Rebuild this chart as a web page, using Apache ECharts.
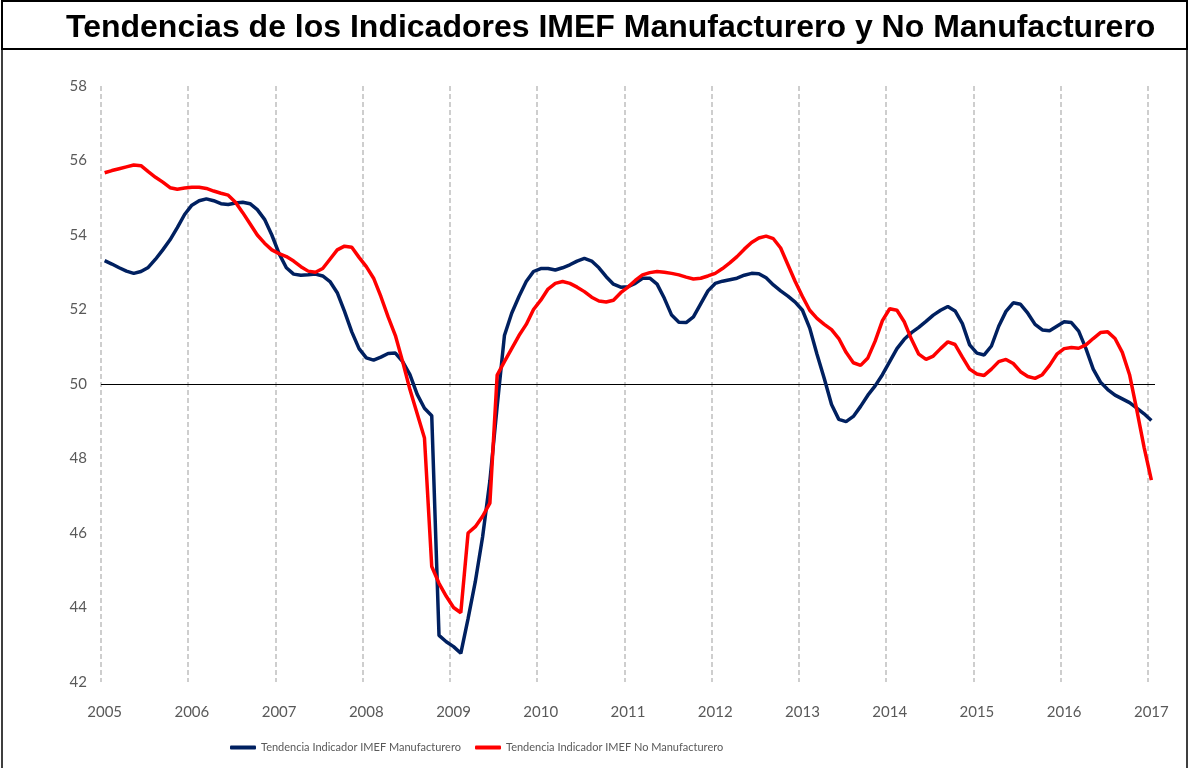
<!DOCTYPE html>
<html>
<head>
<meta charset="utf-8">
<script src="https://cdn.jsdelivr.net/npm/echarts@6/dist/echarts.min.js"></script>
<style>
  html, body { margin: 0; padding: 0; background: #fff; }
  #chart { width: 1190px; height: 768px; }
</style>
</head>
<body>
<div id="chart"></div>
<script>
// años del eje x, datos mensuales de ene-2005 a ene-2017
var years = [2005, 2006, 2007, 2008, 2009, 2010, 2011, 2012, 2013, 2014, 2015, 2016, 2017];
var lastMonth = '2017-01';

var seriesNames = ['Tendencia Indicador IMEF Manufacturero', 'Tendencia Indicador IMEF No Manufacturero'];

// Tendencia IMEF Manufacturero (mensual)
var manufacturero = [
  53.31, 53.22, 53.12, 53.03, 52.97, 53.02, 53.13, 53.35, 53.60, 53.87, 54.20, 54.55,
  54.80, 54.92, 54.97, 54.92, 54.84, 54.82, 54.86, 54.88, 54.84, 54.68, 54.42, 54.00,
  53.50, 53.12, 52.95, 52.92, 52.93, 52.95, 52.90, 52.75, 52.45, 51.95, 51.40, 50.95,
  50.70, 50.64, 50.72, 50.82, 50.83, 50.60, 50.25, 49.72, 49.35, 49.15, 43.25, 43.08,
  42.95, 42.77, 43.70, 44.70, 45.90, 47.40, 49.40, 51.30, 51.90, 52.35, 52.75, 53.02,
  53.10, 53.10, 53.06, 53.12, 53.20, 53.30, 53.37, 53.30, 53.12, 52.88, 52.68, 52.60,
  52.61, 52.70, 52.84, 52.84, 52.68, 52.30, 51.85, 51.66, 51.65, 51.80, 52.15, 52.50,
  52.70, 52.76, 52.80, 52.84, 52.92, 52.97, 52.96, 52.85, 52.66, 52.50, 52.36, 52.20,
  51.98, 51.50, 50.80, 50.15, 49.45, 49.05, 48.99, 49.13, 49.40, 49.70, 49.95, 50.25,
  50.60, 50.95, 51.20, 51.38, 51.52, 51.68, 51.85, 51.98, 52.08, 51.96, 51.62, 51.05,
  50.83, 50.78, 51.02, 51.55, 51.95, 52.18, 52.14, 51.90, 51.60, 51.45, 51.43, 51.55,
  51.67, 51.65, 51.42, 50.95, 50.40, 50.05, 49.85, 49.70, 49.60, 49.50, 49.35, 49.20,
  49.02
];

// Tendencia IMEF No Manufacturero (mensual)
var noManufacturero = [
  55.67, 55.73, 55.78, 55.83, 55.88, 55.86, 55.70, 55.55, 55.42, 55.27, 55.23, 55.26,
  55.28, 55.28, 55.25, 55.18, 55.12, 55.07, 54.88, 54.60, 54.30, 54.00, 53.78, 53.60,
  53.50, 53.42, 53.30, 53.15, 53.03, 53.00, 53.10, 53.35, 53.60, 53.70, 53.67, 53.40,
  53.15, 52.84, 52.35, 51.80, 51.30, 50.60, 49.85, 49.20, 48.55, 45.10, 44.65, 44.30,
  44.00, 43.86, 46.00, 46.17, 46.45, 46.80, 50.24, 50.60, 50.95, 51.30, 51.60, 52.00,
  52.25, 52.55, 52.70, 52.75, 52.70, 52.60, 52.48, 52.33, 52.23, 52.20, 52.25, 52.45,
  52.60, 52.78, 52.93, 52.99, 53.02, 53.00, 52.97, 52.93, 52.87, 52.82, 52.84, 52.90,
  52.97, 53.10, 53.25, 53.42, 53.62, 53.80, 53.92, 53.97, 53.90, 53.65, 53.20, 52.75,
  52.35, 51.98, 51.76, 51.60, 51.46, 51.22, 50.85, 50.57, 50.50, 50.70, 51.15, 51.70,
  52.02, 51.98, 51.67, 51.20, 50.80, 50.66, 50.75, 50.95, 51.13, 51.06, 50.72, 50.40,
  50.27, 50.23, 50.40, 50.60, 50.66, 50.55, 50.33, 50.20, 50.15, 50.25, 50.50, 50.80,
  50.95, 50.98, 50.96, 51.05, 51.22, 51.38, 51.40, 51.22, 50.85, 50.25, 49.30, 48.30,
  47.42
];

var yTicks = [42, 44, 46, 48, 50, 52, 54, 56, 58];

// categorias mensuales
var months = [];
years.forEach(function (y) {
  for (var m = 1; m <= 12; m++) {
    var label = y + '-' + (m < 10 ? '0' + m : m);
    if (months.length && months[months.length - 1] === lastMonth) return;
    months.push(label);
  }
});

var labelFont = 'Lato, "Open Sans", sans-serif';
var grayText = '#595959';

var chart = echarts.init(document.getElementById('chart'), null, { renderer: 'canvas' });

chart.setOption({
  animation: false,
  backgroundColor: '#ffffff',
  title: {
    text: 'Tendencias de los Indicadores IMEF Manufacturero y No Manufacturero',
    left: 61,
    top: 7,
    textStyle: {
      fontFamily: '"Liberation Sans", Arial, sans-serif',
      fontWeight: 'bold',
      fontSize: 32,
      color: '#000'
    }
  },
  graphic: [
    // recuadro del titulo
    { type: 'rect', shape: { x: 2, y: 1, width: 1185, height: 48 },
      style: { fill: null, stroke: '#000', lineWidth: 2 }, silent: true },
    // recuadro del grafico
    { type: 'rect', shape: { x: 2, y: 49, width: 1185, height: 730 },
      style: { fill: null, stroke: '#000', lineWidth: 1.5 }, silent: true }
  ],
  legend: [
    {
      data: [seriesNames[0]],
      left: 225, top: 737,
      icon: 'roundRect', itemWidth: 26, itemHeight: 4, itemGap: 2,
      textStyle: { color: grayText, fontSize: 11, fontFamily: labelFont }
    },
    {
      data: [seriesNames[1]],
      left: 470, top: 737,
      icon: 'roundRect', itemWidth: 26, itemHeight: 4, itemGap: 2,
      textStyle: { color: grayText, fontSize: 11, fontFamily: labelFont }
    }
  ],
  grid: { left: 101, right: 35, top: 86, bottom: 86, containLabel: false },
  xAxis: {
    type: 'category',
    data: months,
    boundaryGap: true,
    axisLine: { show: false },
    axisTick: { show: false },
    axisLabel: {
      interval: function (idx) { return idx % 12 === 0; },
      formatter: function (v) { return v.slice(0, 4); },
      color: grayText, fontSize: 15, fontFamily: labelFont, margin: 23
    },
    splitLine: {
      show: true,
      interval: function (idx) { return idx % 12 === 0; },
      showMaxLine: false,
      lineStyle: { color: '#bfbfbf', width: 1.5, type: [5, 3] }
    }
  },
  yAxis: {
    type: 'value',
    min: yTicks[0],
    max: yTicks[yTicks.length - 1],
    interval: yTicks[1] - yTicks[0],
    axisLine: { show: false },
    axisTick: { show: false },
    splitLine: { show: false },
    axisLabel: { color: grayText, fontSize: 15, fontFamily: labelFont, margin: 14 }
  },
  series: [
    {
      name: seriesNames[0],
      type: 'line',
      data: manufacturero,
      showSymbol: false,
      smooth: false,
      lineStyle: { color: '#002060', width: 3.5 },
      itemStyle: { color: '#002060' },
      z: 3,
      markLine: {
        silent: true,
        symbol: 'none',
        label: { show: false },
        lineStyle: { color: '#000', width: 1, type: 'solid' },
        data: [{ yAxis: 50 }],
        z: 1
      }
    },
    {
      name: seriesNames[1],
      type: 'line',
      data: noManufacturero,
      showSymbol: false,
      smooth: false,
      lineStyle: { color: '#ff0000', width: 3.5 },
      itemStyle: { color: '#ff0000' },
      z: 4
    }
  ]
});
</script>
</body>
</html>
